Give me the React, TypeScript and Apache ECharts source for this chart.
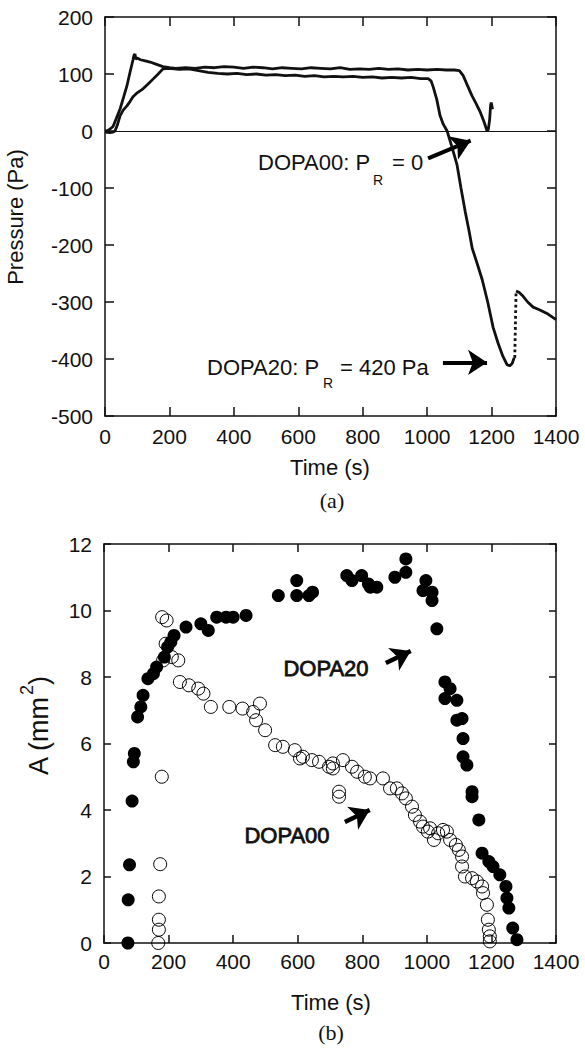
import React, { useEffect, useRef } from "react";
import * as echarts from "echarts";

// ---------- (a) Pressure vs time ----------
const dopa00Pressure: [number, number][] = [
  [0, 0], [6, 0], [15, 3], [25, 8], [35, 22], [47, 39], [58, 60], [68, 79], [78, 104], [87, 125],
  [90, 133], [93, 135], [96, 126], [100, 128], [110, 125], [125, 123], [140, 121], [160, 117], [180, 113],
  [200, 111], [220, 110], [250, 111], [280, 110], [310, 112], [340, 111], [370, 113], [400, 112],
  [430, 110], [460, 112], [490, 111], [520, 109], [550, 111], [580, 110], [610, 109], [640, 111],
  [670, 110], [700, 109], [730, 111], [760, 108], [790, 109], [820, 108], [850, 110], [880, 108],
  [910, 109], [940, 107], [970, 108], [1000, 107], [1030, 108], [1060, 107], [1085, 107], [1100, 106],
  [1112, 97], [1125, 80], [1139, 62], [1152, 48], [1165, 33], [1176, 17], [1186, 0], [1190, 3],
  [1194, 20], [1197, 45], [1199, 50], [1203, 38],
];
const dopa20Pressure: [number, number][] = [
  [0, -2], [15, -3], [25, -2], [31, 0], [38, 10], [47, 27], [57, 37], [68, 44], [78, 52], [87, 60],
  [100, 67], [118, 74], [133, 82], [149, 91], [165, 100], [180, 109], [200, 110], [230, 108],
  [260, 109], [290, 106], [320, 103], [350, 101], [380, 100], [410, 101], [440, 99], [470, 100],
  [500, 98], [530, 99], [560, 97], [590, 98], [620, 96], [650, 97], [680, 95], [710, 96], [740, 95],
  [770, 96], [800, 94], [830, 95], [860, 93], [890, 94], [920, 93], [950, 94], [980, 92], [1003, 92],
  [1012, 88], [1019, 77], [1030, 55], [1040, 27], [1050, 12], [1062, 0], [1078, -30], [1093, -60],
  [1105, -100], [1118, -141], [1130, -175], [1140, -206], [1155, -232], [1171, -261], [1188, -300],
  [1205, -345], [1220, -372], [1235, -395], [1248, -410], [1256, -412], [1264, -408], [1270, -398],
];
const dopa20Jump: [number, number][] = [[1272, -398], [1276, -281]];
const dopa20Recovery: [number, number][] = [
  [1276, -281], [1285, -283], [1298, -290], [1312, -300], [1329, -309], [1350, -314], [1372, -320],
  [1390, -327], [1400, -331],
];

// ---------- (b) Area vs time ----------
const dopa20Area: [number, number][] = [
  [74, 0], [75, 1.3], [79, 2.35], [87, 4.27], [91, 5.45], [94, 5.7], [104, 6.8], [114, 7.1], [121, 7.45],
  [136, 7.95], [153, 8.1], [163, 8.3], [187, 8.6], [197, 8.9], [207, 9.05], [217, 9.25], [254, 9.5],
  [300, 9.6], [323, 9.4], [349, 9.8], [378, 9.8], [400, 9.8], [440, 9.85], [540, 10.45], [597, 10.45],
  [597, 10.9], [635, 10.45], [646, 10.55], [752, 11.05], [768, 10.9], [798, 11.05], [819, 10.8],
  [825, 10.7], [845, 10.7], [901, 11.0], [935, 11.15], [935, 11.55], [997, 10.9], [988, 10.6],
  [1016, 10.55], [1016, 10.3], [1031, 9.45], [1056, 7.85], [1072, 7.65], [1056, 7.35], [1093, 7.3],
  [1093, 6.7], [1109, 6.75], [1112, 6.15], [1112, 5.6], [1124, 5.35], [1140, 4.55], [1140, 4.4],
  [1161, 3.7], [1171, 2.7], [1192, 2.45], [1205, 2.3], [1226, 2.05], [1245, 1.7], [1248, 1.35],
  [1254, 1.05], [1266, 0.45], [1279, 0.1],
];
const dopa00Area: [number, number][] = [
  [168, 0], [170, 0.4], [170, 0.7], [170, 1.4], [174, 2.37], [179, 5.0], [180, 9.8], [194, 9.7],
  [191, 9.0], [183, 8.5], [210, 8.6], [230, 8.5], [235, 7.85], [263, 7.75], [292, 7.65], [308, 7.5],
  [331, 7.1], [388, 7.1], [429, 7.05], [462, 6.95], [483, 7.2], [471, 6.7], [499, 6.4], [530, 5.95],
  [554, 5.9], [591, 5.8], [607, 5.55], [616, 5.6], [644, 5.5], [666, 5.45], [697, 5.3], [709, 5.4],
  [709, 5.25], [728, 4.55], [728, 4.4], [740, 5.5], [768, 5.3], [784, 5.15], [808, 5.0], [824, 4.95],
  [864, 4.95], [886, 4.65], [907, 4.65], [923, 4.5], [935, 4.35], [954, 4.1], [963, 3.85], [979, 3.65],
  [988, 3.5], [1003, 3.35], [1010, 3.45], [1022, 3.1], [1035, 3.3], [1050, 3.4], [1062, 3.35],
  [1072, 3.1], [1090, 2.95], [1099, 2.8], [1109, 2.6], [1109, 2.3], [1118, 2.0], [1140, 1.95],
  [1155, 1.85], [1171, 1.7], [1174, 1.5], [1186, 1.15], [1189, 0.7], [1192, 0.4], [1195, 0.2],
  [1195, 0.05],
];

// annotation arrows in data coordinates [start, end]
const arrowsA: [number, number][][] = [
  [[1003, -48], [1135, -17]],
  [[1049, -406], [1186, -406]],
];
const arrowsB: [number, number][][] = [
  [[873, 8.42], [950, 8.78]],
  [[746, 3.64], [823, 4.0]],
];

const FONT = "'Liberation Sans', Arial, Helvetica, sans-serif";
const SERIF = "'Liberation Serif', 'Times New Roman', serif";

function xAx(grid: number, pos: "bottom" | "top", tickLen: number, margin: number) {
  return {
    type: "value",
    gridIndex: grid,
    position: pos,
    min: 0,
    max: 1400,
    interval: 200,
    axisLine: { show: true, onZero: false, lineStyle: { color: "#111", width: 1.5 } },
    axisTick: { show: true, inside: true, length: tickLen, lineStyle: { color: "#111", width: 1.5 } },
    axisLabel: {
      show: pos === "bottom",
      fontSize: 21,
      color: "#111",
      fontFamily: FONT,
      margin,
      formatter: (v: number) => String(v),
    },
    splitLine: { show: false },
  };
}
function yAx(grid: number, pos: "left" | "right", min: number, max: number, interval: number, tickLen: number) {
  return {
    type: "value",
    gridIndex: grid,
    position: pos,
    min,
    max,
    interval,
    axisLine: { show: true, onZero: false, lineStyle: { color: "#111", width: 1.5 } },
    axisTick: { show: true, inside: true, length: tickLen, lineStyle: { color: "#111", width: 1.5 } },
    axisLabel: {
      show: pos === "left",
      fontSize: 21,
      color: "#111",
      fontFamily: FONT,
      margin: 12,
      formatter: (v: number) => String(v),
    },
    splitLine: { show: false },
  };
}

function txt(text: string, x: number, y: number, size: number, opts: any = {}) {
  const align = opts.align || "left";
  return {
    type: "text",
    x,
    y,
    rotation: opts.rotation || 0,
    silent: true,
    style: {
      text,
      fontSize: size,
      fontFamily: opts.family || FONT,
      fontWeight: opts.weight || "normal",
      fill: "#111",
      stroke: opts.stroke ? "#111" : undefined,
      lineWidth: opts.stroke || 0,
      align,
      verticalAlign: "middle",
      textAlign: align,
      textVerticalAlign: "middle",
    },
  };
}

function arrowLines(arrows: [number, number][][]) {
  return arrows.map((a) => [{ coord: a[0] }, { coord: a[1] }]);
}

export default function App() {
  const ref = useRef<HTMLDivElement>(null);
  useEffect(() => {
    if (!ref.current) return;
    const chart = echarts.init(ref.current, undefined, { renderer: "svg" });
    const lineCommon = {
      type: "line",
      xAxisIndex: 0,
      yAxisIndex: 0,
      showSymbol: false,
      symbol: "none",
      smooth: false,
      lineStyle: { color: "#111", width: 2.8 },
      z: 3,
    };
    chart.setOption({
      animation: false,
      backgroundColor: "#fff",
      grid: [
        { left: 105, top: 17, width: 451, height: 399 },
        { left: 104, top: 544, width: 452, height: 399 },
      ],
      xAxis: [xAx(0, "bottom", 9, 10), xAx(0, "top", 9, 10), xAx(1, "bottom", 8, 8), xAx(1, "top", 8, 8)],
      yAxis: [
        yAx(0, "left", -500, 200, 100, 9),
        yAx(0, "right", -500, 200, 100, 9),
        yAx(1, "left", 0, 12, 2, 7),
        yAx(1, "right", 0, 12, 2, 7),
      ],
      series: [
        {
          ...lineCommon,
          name: "DOPA00 pressure",
          data: dopa00Pressure,
          markLine: {
            silent: true,
            symbol: ["none", "none"],
            label: { show: false },
            lineStyle: { color: "#111", width: 1, type: "solid" },
            data: [{ yAxis: 0 }],
          },
        },
        {
          ...lineCommon,
          name: "DOPA20 pressure",
          data: dopa20Pressure,
          markLine: {
            silent: true,
            symbol: ["none", "arrow"],
            symbolSize: 19,
            label: { show: false },
            lineStyle: { color: "#000", width: 4, type: "solid" },
            data: arrowLines(arrowsA),
          },
        },
        {
          ...lineCommon,
          name: "DOPA20 jump",
          data: dopa20Jump,
          lineStyle: { color: "#111", width: 2.8, type: "dotted" },
        },
        { ...lineCommon, name: "DOPA20 recovery", data: dopa20Recovery },
        {
          type: "scatter",
          name: "DOPA20",
          xAxisIndex: 2,
          yAxisIndex: 2,
          data: dopa20Area,
          symbol: "circle",
          symbolSize: 13,
          itemStyle: { color: "#000", borderWidth: 0, opacity: 1 },
          markLine: {
            silent: true,
            symbol: ["none", "arrow"],
            symbolSize: 19,
            label: { show: false },
            lineStyle: { color: "#000", width: 4.5, type: "solid" },
            data: arrowLines(arrowsB),
          },
        },
        {
          type: "scatter",
          name: "DOPA00",
          xAxisIndex: 2,
          yAxisIndex: 2,
          data: dopa00Area,
          symbol: "circle",
          symbolSize: 13,
          itemStyle: { color: "rgba(255,255,255,0)", borderColor: "#000", borderWidth: 1, opacity: 1 },
        },
      ],
      graphic: [
        txt("Pressure (Pa)", 15, 217, 22, { align: "center", rotation: Math.PI / 2 }),
        txt("Time (s)", 330, 467, 22, { align: "center" }),
        txt("(a)", 332, 500, 22, { align: "center", family: SERIF }),
        txt("DOPA00: P", 258, 162, 22),
        txt("R", 373, 180, 14),
        txt("= 0", 392, 162, 22),
        txt("DOPA20: P", 207, 367, 22),
        txt("R", 323, 383, 14),
        txt("= 420 Pa", 340, 367, 22),
        txt("DOPA20", 326, 668, 22, { align: "center", stroke: 0.8 }),
        txt("DOPA00", 287, 835, 22, { align: "center", stroke: 0.8 }),
        txt("Time (s)", 331, 1002, 22, { align: "center" }),
        txt("(b)", 331, 1032, 22, { align: "center", family: SERIF }),
        {
          type: "group",
          x: 38.5,
          y: 775,
          rotation: Math.PI / 2,
          children: [
            txt("A (mm", 0, 0, 27),
            txt("2", 80, -12, 18),
            txt(")", 90, 0, 27),
          ],
        },
      ],
    });
    return () => chart.dispose();
  }, []);
  return (
    <div
      ref={ref}
      style={{ position: "absolute", left: 0, top: 0, width: 585, height: 1050, background: "#fff" }}
    />
  );
}
